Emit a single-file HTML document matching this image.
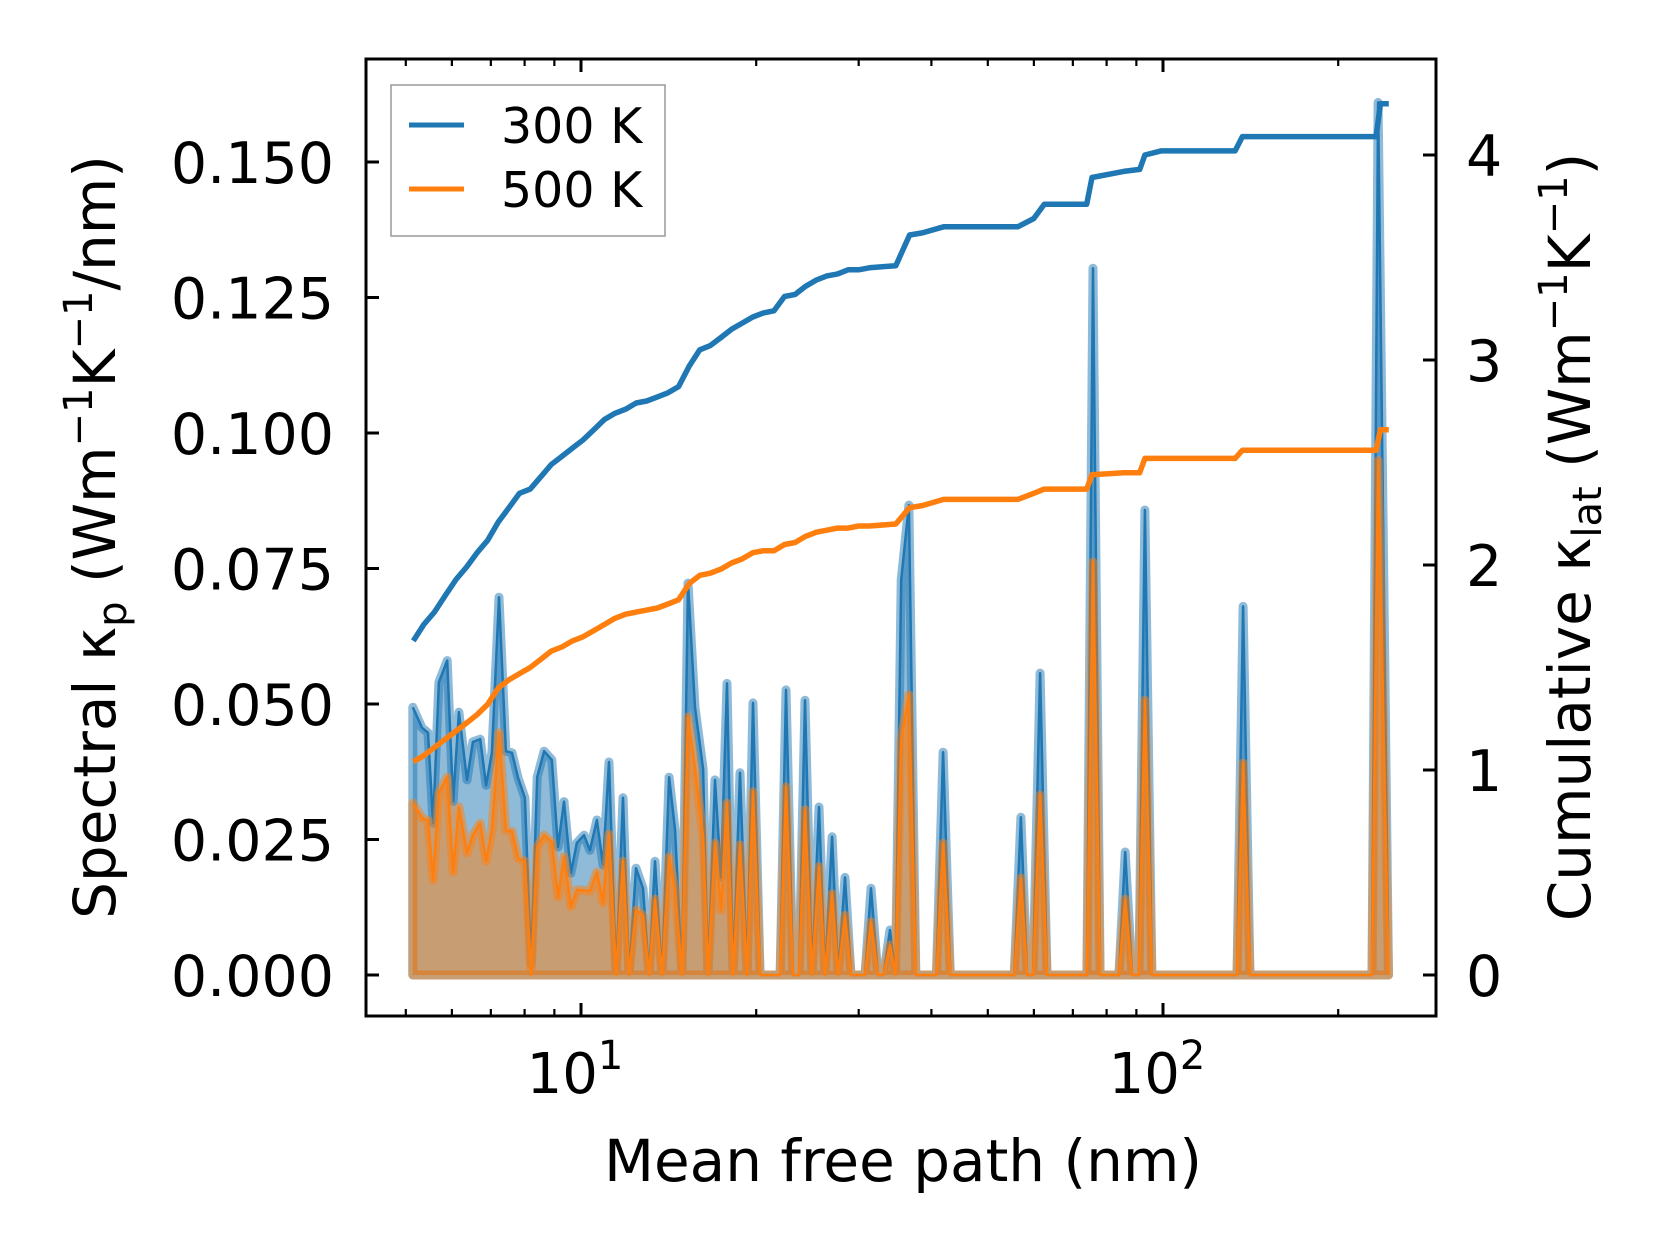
<!DOCTYPE html>
<html><head><meta charset="utf-8"><style>
html,body{margin:0;padding:0;background:#fff}
svg{display:block;font-family:"DejaVu Sans","Liberation Sans",sans-serif}
</style></head><body>
<svg id="chart" width="1660" height="1254" viewBox="0 0 1660 1254">
<rect x="0" y="0" width="1660" height="1254" fill="#fff"/>
<g id="marks"></g>
<g id="axes"></g>
</svg>
<script>
// Spectral data (mean free path in nm)
const mfp = [5.14,5.33,5.46,5.57,5.70,5.89,6.03,6.17,6.37,6.52,6.71,6.87,7.03,7.23,7.43,7.61,7.80,8.01,8.21,8.41,8.64,8.91,9.13,9.35,9.61,9.84,10.12,10.36,10.65,10.91,11.17,11.49,11.81,12.09,12.43,12.78,13.09,13.40,13.78,14.17,14.51,14.91,15.27,15.70,16.21,16.53,16.99,17.40,17.82,18.25,18.76,19.29,19.75,20.31,20.9,21.4,21.98,22.50,23.13,23.69,24.26,24.94,25.64,26.26,27.0,27.65,28.42,29.1,30.0,30.76,31.5,32.37,33.1,33.96,34.7,35.5,36.6,37.6,40.8,41.9,43.1,55.5,57.0,58.4,59.8,61.5,63.2,74.0,75.8,77.96,84.0,86.1,88.5,90.9,93.1,95.7,134,137.3,141.1,228.6,234.2,244];
const spec300 = [0.0494,0.0456,0.0447,0.028,0.054,0.058,0.032,0.0485,0.036,0.043,0.0435,0.035,0.041,0.0697,0.0413,0.041,0.0363,0.0327,0.002,0.0365,0.0413,0.0397,0.0236,0.032,0.0188,0.0244,0.0258,0.023,0.0286,0.0203,0.0393,0,0.0327,0,0.0197,0.016,0,0.021,0,0.0365,0.0267,0,0.0723,0.0494,0.038,0,0.036,0.018,0.0538,0,0.0373,0,0.0502,0,0,0,0,0.0526,0,0,0.0507,0,0.031,0,0.0255,0,0.018,0,0,0,0.016,0,0,0.0083,0,0.0729,0.0867,0,0,0.0411,0,0,0.0291,0,0,0.0557,0,0,0.1304,0,0,0.0227,0,0,0.0858,0,0,0.068,0,0,0.161,0];
const spec500 = [0.0317,0.029,0.0285,0.0175,0.0336,0.0365,0.019,0.031,0.0225,0.0258,0.028,0.021,0.0267,0.0447,0.0267,0.0265,0.0215,0.021,0,0.0236,0.0258,0.0245,0.0144,0.0218,0.0126,0.0157,0.0156,0.0155,0.019,0.0133,0.026,0,0.021,0,0.012,0.011,0,0.014,0,0.0218,0.0155,0,0.0476,0.038,0.0255,0,0.0243,0.012,0.0317,0,0.024,0,0.0338,0,0,0,0,0.0347,0,0,0.0305,0,0.02,0,0.015,0,0.011,0,0,0,0.0098,0,0,0.0055,0,0.0434,0.0517,0,0,0.0243,0,0,0.0179,0,0,0.0332,0,0,0.0762,0,0,0.014,0,0,0.0507,0,0,0.0391,0,0,0.0949,0];
// Cumulative data
const cumX = [5.15,5.37,5.60,5.84,6.10,6.36,6.63,6.91,7.21,7.52,7.84,8.18,8.53,8.89,9.27,9.67,10.08,10.52,10.97,11.44,11.93,12.44,12.97,13.53,14.11,14.71,15.34,16.00,16.68,17.40,18.14,18.92,19.73,20.58,21.46,22.37,23.33,24.33,25.38,26.46,27.60,28.77,30.01,31.29,34.75,36.70,38.59,41.98,56.30,59.97,62.52,73.93,75.5,85.6,91.2,93.1,99.2,133.0,136.9,232.4,236.3,244.3];
const cum300 = [1.63,1.71,1.77,1.85,1.93,1.99,2.06,2.12,2.21,2.28,2.35,2.37,2.43,2.49,2.53,2.57,2.61,2.66,2.71,2.74,2.76,2.79,2.80,2.82,2.84,2.87,2.97,3.05,3.07,3.11,3.15,3.18,3.21,3.23,3.24,3.31,3.32,3.36,3.39,3.41,3.42,3.44,3.44,3.45,3.46,3.61,3.62,3.65,3.65,3.69,3.76,3.76,3.89,3.92,3.93,4.00,4.02,4.02,4.09,4.09,4.25,4.25];
const cum500 = [1.04,1.07,1.11,1.15,1.19,1.23,1.27,1.32,1.40,1.44,1.47,1.50,1.54,1.58,1.60,1.63,1.65,1.68,1.71,1.74,1.76,1.77,1.78,1.79,1.81,1.83,1.91,1.95,1.96,1.98,2.01,2.03,2.06,2.07,2.07,2.10,2.11,2.14,2.16,2.17,2.18,2.18,2.19,2.19,2.20,2.28,2.29,2.32,2.32,2.35,2.37,2.37,2.44,2.45,2.45,2.52,2.52,2.52,2.56,2.56,2.66,2.66];
const yTicksL = [0,0.025,0.05,0.075,0.1,0.125,0.15];
const yTickLabelsL = ["0.000","0.025","0.050","0.075","0.100","0.125","0.150"];
const yTicksR = [0,1,2,3,4];
const xMajor = [10,100];
const xMajorExp = ["1","2"];
const xMinor = [5,6,7,8,9,20,30,40,50,60,70,80,90,200];

const NS="http://www.w3.org/2000/svg";
const X0=366,X1=1436,Y0=59,Y1=1016;
function xs(v){return 581+(Math.log10(v)-1)*582;}
function yl(v){return 975-v*5420;}
function yr(v){return 975-v*205;}
function mk(tag,attrs,parent){const e=document.createElementNS(NS,tag);for(const k in attrs)e.setAttribute(k,attrs[k]);parent.appendChild(e);return e;}
const marks=document.getElementById('marks');
const axes=document.getElementById('axes');

function spectral(vals,color,name){
  let pts=vals.map((v,i)=>xs(mfp[i]).toFixed(1)+','+yl(v).toFixed(1));
  const first=xs(mfp[0]).toFixed(1), last=xs(mfp[mfp.length-1]).toFixed(1);
  const poly=first+','+yl(0)+' '+pts.join(' ')+' '+last+','+yl(0);
  const f=mk('polygon',{points:poly,fill:color,'fill-opacity':0.5,stroke:color,'stroke-opacity':0.5,'stroke-width':9,'stroke-linejoin':'round'},marks);
  
  
  const l=mk('polyline',{points:pts.join(' '),fill:'none',stroke:color,'stroke-width':2.5,'stroke-linejoin':'round'},marks);
  
  
}
spectral(spec300,'#1f77b4','spectral-300k');
spectral(spec500,'#ff7f0e','spectral-500k');

function cumLine(vals,color,name){
  const pts=vals.map((v,i)=>xs(cumX[i]).toFixed(1)+','+yr(v).toFixed(1)).join(' ');
  const l=mk('polyline',{points:pts,fill:'none',stroke:color,'stroke-width':5.5,'stroke-linejoin':'round'},marks);
  
  
}
cumLine(cum300,'#1f77b4','cumulative-300k');
cumLine(cum500,'#ff7f0e','cumulative-500k');

// frame
const fr=mk('rect',{x:X0,y:Y0,width:X1-X0,height:Y1-Y0,fill:'none',stroke:'#000','stroke-width':3},axes);



// left ticks
yTicksL.forEach((v,i)=>{
  const y=yl(v);
  const t=mk('line',{x1:X0,x2:X0+13,y1:y,y2:y,stroke:'#000','stroke-width':3},axes);
  
  
  const tx=mk('text',{x:334,y:y+21,'text-anchor':'end','font-size':57,fill:'#000'},axes);
  tx.textContent=yTickLabelsL[i];
  
  
});
// right ticks
yTicksR.forEach(v=>{
  const y=yr(v);
  const t=mk('line',{x1:X1-13,x2:X1,y1:y,y2:y,stroke:'#000','stroke-width':3},axes);
  
  
  const tx=mk('text',{x:1466,y:y+21,'text-anchor':'start','font-size':57,fill:'#000'},axes);
  tx.textContent=String(v);
  
  
});
// x ticks
xMajor.forEach((v,i)=>{
  const x=xs(v);
  [[Y1,Y1-13],[Y0,Y0+13]].forEach(p=>{
    const t=mk('line',{x1:x,x2:x,y1:p[0],y2:p[1],stroke:'#000','stroke-width':3},axes);
    
    
  });
  const tx=mk('text',{x:x-6,y:1093,'text-anchor':'middle','font-size':56,fill:'#000'},axes);
  tx.textContent='10';
  
  
  const sp=mk('tspan',{dy:-24,'font-size':40},tx);
  sp.textContent=xMajorExp[i];
});
xMinor.forEach(v=>{
  const x=xs(v);
  [[Y1,Y1-7],[Y0,Y0+7]].forEach(p=>{
    const t=mk('line',{x1:x,x2:x,y1:p[0],y2:p[1],stroke:'#000','stroke-width':2.2},axes);
    
    
  });
});
</script>
<svg width="1660" height="1254" style="position:absolute;left:0;top:0">
<g font-family="DejaVu Sans, Liberation Sans, sans-serif" fill="#000">
<text x="903" y="1181" text-anchor="middle" font-size="58">Mean free path (nm)</text>
<text transform="translate(115,537) rotate(-90)" text-anchor="middle" font-size="58">Spectral κ<tspan font-size="40" dy="11">p</tspan><tspan dy="-11"> (Wm</tspan><tspan font-size="40" dy="-23">−1</tspan><tspan dy="23">K</tspan><tspan font-size="40" dy="-23">−1</tspan><tspan dy="23">/nm)</tspan></text>
<text transform="translate(1590,537) rotate(-90)" text-anchor="middle" font-size="58">Cumulative κ<tspan font-size="40" dy="11">lat</tspan><tspan dy="-11"> (Wm</tspan><tspan font-size="40" dy="-23">−1</tspan><tspan dy="23">K</tspan><tspan font-size="40" dy="-23">−1</tspan><tspan dy="23">)</tspan></text>
<g>
<rect x="391" y="85" width="274" height="151" fill="#fff" fill-opacity="0.8" stroke="#999" stroke-width="1.5"/>
<line x1="409" y1="125" x2="464" y2="125" stroke="#1f77b4" stroke-width="5"/>
<text x="501" y="143" font-size="49">300 K</text>
<line x1="409" y1="189" x2="464" y2="189" stroke="#ff7f0e" stroke-width="5"/>
<text x="501" y="207" font-size="49">500 K</text>
</g>
</g>
</svg>
</body></html>
